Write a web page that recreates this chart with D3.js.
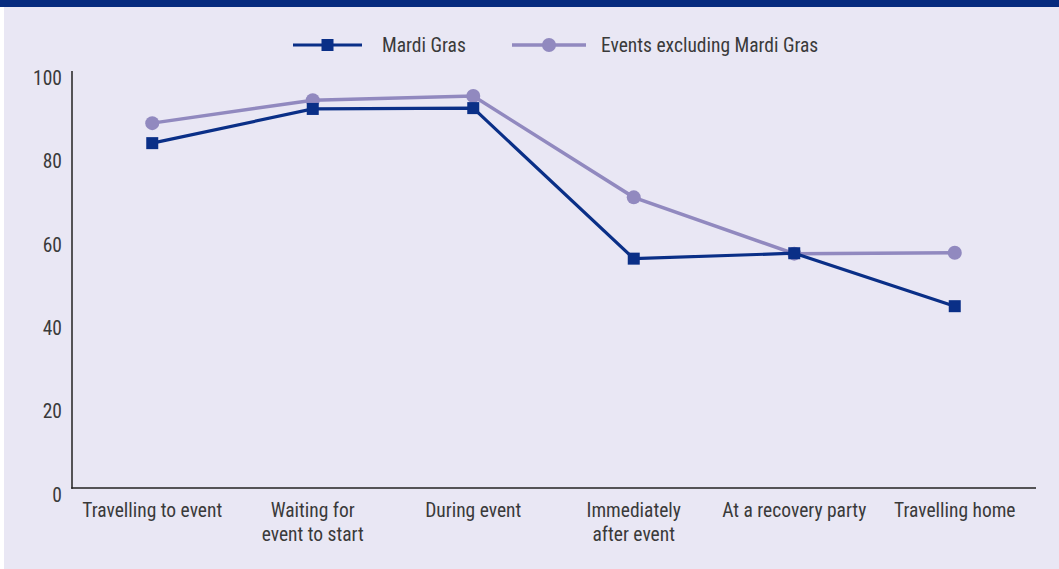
<!DOCTYPE html>
<html>
<head>
<meta charset="utf-8">
<script src="https://cdn.jsdelivr.net/npm/d3@7"></script>
<style>
  body { margin: 0; background: #fff; }
  svg { display: block; font-family: "Liberation Sans Narrow", "Roboto Condensed", "Liberation Sans", sans-serif; }
</style>
</head>
<body>
<svg class="chart"></svg>
<script>
const size = {w: 1059, h: 569};

// stages along the x axis (labels split on line breaks)
const stages = [
    'Travelling to event',
    'Waiting for\nevent to start',
    'During event',
    'Immediately\nafter event',
    'At a recovery party',
    'Travelling home'
];
const mardiGras = [82.7, 90.9, 91.1, 55.0, 56.3, 43.6];
const otherEvents = [87.5, 93.0, 94.0, 69.7, 56.2, 56.4];
const yTicks = [0, 20, 40, 60, 80, 100];

const colors = {mardi: '#0a2f87', other: '#9189bf', bg: '#e9e7f4', text: '#3a3a3a'};
const fontSize = 19.5;

const svg = d3.select('svg.chart')
    .attr('width', size.w)
    .attr('height', size.h);

// background panel + top band
svg.append('rect').attr('x', 4).attr('y', 0).attr('width', size.w - 4).attr('height', size.h).attr('fill', colors.bg);
svg.append('rect').attr('x', 0).attr('y', 0).attr('width', size.w).attr('height', 7).attr('fill', '#062b7e');

const x = d3.scalePoint()
    .domain(stages)
    .range([72, 1035])
    .padding(0.5);

const y = d3.scaleLinear()
    .domain([0, 100])
    .range([488, 71]);

// axes lines
svg.append('line')
    .attr('x1', 72).attr('x2', 72).attr('y1', y(100)).attr('y2', y(0) + 0.75)
    .attr('stroke', '#222').attr('stroke-width', 1.5);
svg.append('line')
    .attr('x1', 71.25).attr('x2', 1036).attr('y1', y(0)).attr('y2', y(0))
    .attr('stroke', '#222').attr('stroke-width', 1.5);

// y tick labels (sit slightly below their gridline in the original)
svg.append('g').selectAll('text')
    .data(yTicks)
    .join('text')
    .attr('x', 62)
    .attr('y', d => y(d) + 7)
    .attr('dy', '0.35em')
    .attr('text-anchor', 'end')
    .attr('font-size', fontSize)
    .attr('fill', colors.text)
    .text(d => d);

// x labels
svg.append('g').selectAll('text')
    .data(stages)
    .join('text')
    .attr('x', d => x(d))
    .attr('y', 510)
    .attr('text-anchor', 'middle')
    .attr('font-size', fontSize)
    .attr('fill', colors.text)
    .each(function(d) {
        d3.select(this).selectAll('tspan')
            .data(d.split('\n'))
            .join('tspan')
            .attr('x', x(d))
            .attr('dy', (t, i) => i === 0 ? '0.35em' : '1.25em')
            .text(t => t);
    });

const line = d3.line()
    .x((d, i) => x(stages[i]))
    .y(d => y(d));

// events excluding Mardi Gras (drawn first, underneath)
svg.append('path')
    .datum(otherEvents)
    .attr('d', line)
    .attr('fill', 'none')
    .attr('stroke', colors.other)
    .attr('stroke-width', 3.5);
svg.append('g').selectAll('circle')
    .data(otherEvents)
    .join('circle')
    .attr('cx', (d, i) => x(stages[i]))
    .attr('cy', d => y(d))
    .attr('r', 7)
    .attr('fill', colors.other);

// Mardi Gras
svg.append('path')
    .datum(mardiGras)
    .attr('d', line)
    .attr('fill', 'none')
    .attr('stroke', colors.mardi)
    .attr('stroke-width', 3.2);
svg.append('g').selectAll('rect')
    .data(mardiGras)
    .join('rect')
    .attr('x', (d, i) => x(stages[i]) - 6)
    .attr('y', d => y(d) - 6)
    .attr('width', 12)
    .attr('height', 12)
    .attr('fill', colors.mardi);

// legend
const legend = [
    {name: 'Mardi Gras', color: colors.mardi, x0: 293, x1: 362, textX: 382, shape: 'square', width: 3.2},
    {name: 'Events excluding Mardi Gras', color: colors.other, x0: 512, x1: 586, textX: 601, shape: 'circle', width: 3.5}
];
const ly = 45;
const lg = svg.append('g').selectAll('g')
    .data(legend)
    .join('g');
lg.append('line')
    .attr('x1', d => d.x0).attr('x2', d => d.x1)
    .attr('y1', ly).attr('y2', ly)
    .attr('stroke', d => d.color)
    .attr('stroke-width', d => d.width);
lg.filter(d => d.shape === 'square').append('rect')
    .attr('x', d => (d.x0 + d.x1) / 2 - 6)
    .attr('y', ly - 6)
    .attr('width', 12).attr('height', 12)
    .attr('fill', d => d.color);
lg.filter(d => d.shape === 'circle').append('circle')
    .attr('cx', d => (d.x0 + d.x1) / 2)
    .attr('cy', ly)
    .attr('r', 7)
    .attr('fill', d => d.color);
lg.append('text')
    .attr('x', d => d.textX)
    .attr('y', ly)
    .attr('dy', '0.35em')
    .attr('font-size', fontSize)
    .attr('fill', colors.text)
    .text(d => d.name);
</script>
</body>
</html>
